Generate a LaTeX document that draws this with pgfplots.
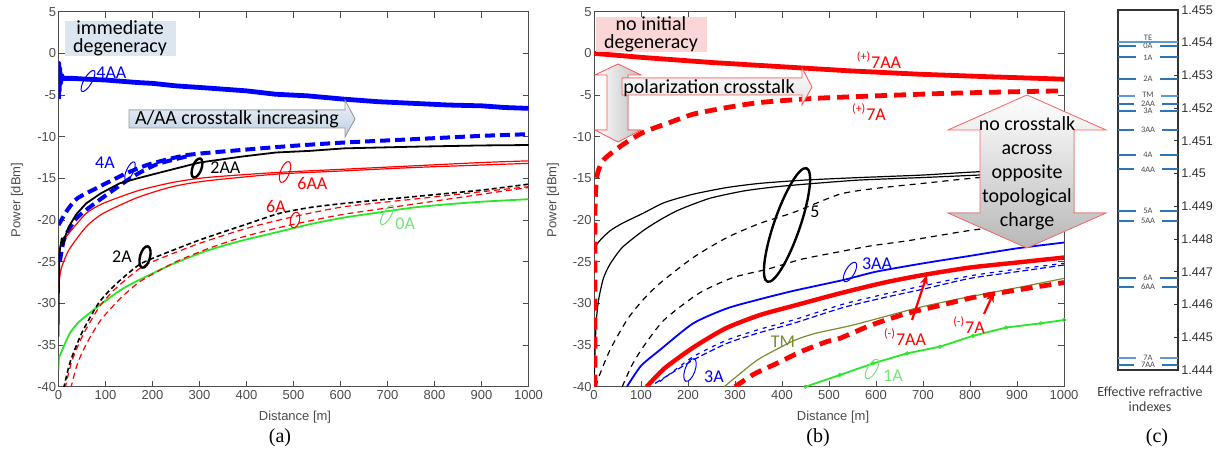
\documentclass[border=0pt]{standalone}
\usepackage{fontspec}
\setmainfont{Carlito}
\newfontfamily\arialf{Liberation Sans}
\newfontfamily\timesf{Liberation Serif}
\usepackage{pgfplots}
\pgfplotsset{compat=1.18}
\usetikzlibrary{shapes.geometric,arrows.meta}

\definecolor{mgreen}{RGB}{40,230,40}
\definecolor{lgreen}{RGB}{120,225,120}
\definecolor{tmolive}{RGB}{120,140,50}
\definecolor{cblue}{RGB}{46,117,182}
\definecolor{cblue2}{RGB}{91,155,213}
\definecolor{boxblue}{RGB}{220,230,241}
\definecolor{boxpink}{RGB}{250,214,214}
\definecolor{arrT}{RGB}{238,243,249}
\definecolor{arrB}{RGB}{188,206,225}

\tikzset{lab/.style={pos=0.5, fill=white, inner xsep=3.5pt, inner ysep=0pt, text=black!70,
    font=\fontsize{4.2}{4.5}\selectfont}}

\pgfplotsset{
  panel/.style={
    scale only axis, width=235pt, height=187.5pt, anchor=south west,
    xmin=0, xmax=1000, ymin=-40, ymax=5,
    xtick={0,100,...,1000}, ytick={-40,-35,...,5},
    tick align=inside, major tick length=3pt,
    axis line style={black!70}, every tick/.style={black!70, line width=0.4pt},
    /pgf/number format/assume math mode=true,
    /pgf/number format/1000 sep={},
    ticklabel style={font=\arialf\fontsize{6.5}{7}\selectfont, text=black!70},
    yticklabel style={inner xsep=1pt},
    xticklabel style={inner ysep=1.5pt},
  },
  every axis plot/.append style={line join=round},
}

\begin{document}
\begin{tikzpicture}
\useasboundingbox (0,0) rectangle (612pt,226.5pt);

% ---------------- panel (a) ----------------
\begin{axis}[panel, at={(29.25pt,33.15pt)}]
% 4AA
\addplot[blue, line width=2.4pt] coordinates {
 (0,-5.5) (0.5,-1.2) (1.5,-4.5) (2.5,-1.8) (4,-3.6) (6,-2.6) (10,-3.0) (30,-3.0) (60,-3.1)
 (100,-3.2) (168,-3.5) (200,-3.6) (250,-3.9) (315,-4.15) (400,-4.5) (461,-4.9) (530,-5.1)
 (608,-5.5) (680,-5.8) (755,-6.0) (830,-6.2) (901,-6.3) (950,-6.5) (1000,-6.6)};
% 4A
\addplot[blue, line width=2pt, dash pattern=on 5pt off 2.5pt, smooth, tension=0.4] coordinates {
 (0,-20.6) (19,-18.8) (40,-17.4) (87,-16.0) (144,-14.4) (194,-13.3) (274,-12.2) (388,-11.6)
 (498,-11.1) (608,-10.7) (755,-10.3) (901,-9.9) (1000,-9.7)};
\addplot[blue, line width=2pt, dash pattern=on 5pt off 2.5pt, smooth, tension=0.4] coordinates {
 (3,-25) (12,-22.3) (38,-19.8) (87,-17.6) (158,-14.8) (210,-13.3) (278,-12.3)};
% 6AA
\addplot[red, line width=0.6pt, smooth, tension=0.4] coordinates {
 (0,-24) (5,-23) (22,-21.6) (59,-19.2) (95,-18) (168,-16.5) (242,-15.5) (315,-14.9)
 (462,-14.3) (608,-13.9) (755,-13.5) (900,-13.1) (1000,-12.9)};
\addplot[red, line width=0.6pt, smooth, tension=0.4] coordinates {
 (0,-28.4) (5,-26) (22,-23.6) (59,-20.8) (95,-19.2) (168,-17.3) (242,-16) (315,-15.3)
 (462,-14.5) (608,-14.1) (755,-13.7) (900,-13.4) (1000,-13.2)};
% 2AA
\addplot[black, line width=0.9pt] coordinates {
 (0,-34) (1,-27) (2,-24) (4,-23.2) (7,-22.2) (10,-23) (14,-22) (22,-20.8) (38,-19.3) (59,-18)
 (90,-16.8) (130,-15.6) (168,-15) (230,-14.1) (300,-13.1) (388,-12.4) (462,-11.9) (535,-11.7)
 (608,-11.4) (755,-11.2) (900,-11.05) (1000,-11.0)};
% 0A
\addplot[mgreen, line width=0.9pt, smooth, tension=0.4] coordinates {
 (0,-38) (1,-36.5) (5,-36) (11,-35.2) (25,-33.5) (44,-32.2) (70,-31) (95,-29.9) (132,-28.4)
 (168,-27.3) (242,-25.3) (315,-23.7) (388,-22.5) (462,-21.5) (535,-20.5) (608,-19.7)
 (681,-19.1) (755,-18.5) (830,-18.1) (901,-17.8) (1000,-17.5)};
% 6A
\addplot[red, line width=0.6pt, dash pattern=on 3pt off 2pt, smooth, tension=0.4] coordinates {
 (14,-40.2) (28,-37) (52,-33.8) (87,-30.4) (120,-28.3) (168,-26) (200,-25) (300,-22.8)
 (400,-21) (500,-19.6) (608,-18.4) (755,-17.5) (901,-16.6) (1000,-16)};
\addplot[red, line width=0.6pt, dash pattern=on 3pt off 2pt, smooth, tension=0.4] coordinates {
 (26,-40.2) (40,-37.3) (60,-34.8) (90,-32) (130,-29.5) (168,-27.6) (200,-26.5) (250,-25)
 (315,-23.5) (388,-22.1) (462,-21) (535,-20.1) (608,-19.3) (755,-18.1) (901,-16.9) (1000,-16.1)};
% 2A
\addplot[black, line width=0.8pt, dash pattern=on 2.5pt off 1.5pt, smooth, tension=0.4] coordinates {
 (11,-40.2) (25,-37) (50,-33.5) (85,-30) (120,-27.8) (168,-25.5) (200,-24.6) (300,-22.4)
 (400,-20.5) (470,-19.2) (535,-18.5) (608,-18) (755,-17.2) (901,-16.4) (1000,-15.7)};
\end{axis}

% ---------------- panel (b) ----------------
\begin{axis}[panel, at={(297pt,33.15pt)}]
% black solid (5)
\addplot[black, line width=0.6pt, smooth, tension=0.4] coordinates {
 (0,-23.6) (5,-23) (15,-22.3) (34,-21.3) (60,-20.4) (104,-19.2) (150,-17.9) (211,-16.9)
 (283,-16.1) (353,-15.6) (450,-15.2) (566,-14.9) (700,-14.6) (821,-14.2) (1000,-13.9)};
\addplot[black, line width=0.6pt, smooth, tension=0.4] coordinates {
 (0,-40) (2,-36) (5,-32) (10,-29.5) (20,-27) (34,-25.3) (60,-23.3) (104,-21.3) (140,-20)
 (180,-18.8) (246,-17.4) (320,-16.5) (389,-16) (470,-15.6) (566,-15.2) (700,-14.9) (821,-14.6) (1000,-14.2)};
% black dashed (5)
\addplot[black, line width=0.6pt, dash pattern=on 3pt off 2.5pt, smooth, tension=0.4] coordinates {
 (5,-40) (9,-39) (34,-35.6) (70,-32) (104,-29.6) (140,-27.6) (211,-24.5) (283,-22.1)
 (353,-20.4) (424,-19.1) (523,-16.9) (600,-16.2) (700,-15.6) (821,-14.9) (1000,-14.2)};
\addplot[black, line width=0.6pt, dash pattern=on 3pt off 2.5pt, smooth, tension=0.4] coordinates {
 (60,-40) (80,-37.5) (105,-35.2) (149,-32) (223,-28.8) (296,-26.9) (369,-25.9) (442,-24.7)
 (523,-23.8) (589,-23.1) (666,-22.5) (740,-21.8) (806,-21.2) (900,-20.6) (1000,-20.1)};
% 3AA
\addplot[blue, line width=0.9pt, smooth, tension=0.4] coordinates {
 (70,-40) (100,-37.5) (140,-35.6) (211,-32.4) (283,-30.6) (353,-29.5) (424,-28.5) (530,-27.2)
 (600,-26.2) (700,-25.2) (800,-24.3) (900,-23.4) (1000,-22.7)};
% 3A
\addplot[blue, line width=0.6pt, dash pattern=on 3pt off 1.5pt, smooth, tension=0.4] coordinates {
 (130,-39.6) (211,-36.8) (283,-34.8) (353,-33.5) (424,-32.4) (530,-30.5) (618,-29.3)
 (700,-28.3) (800,-27) (900,-26.2) (1000,-25.4)};
\addplot[blue, line width=0.6pt, dash pattern=on 2pt off 2.5pt, smooth, tension=0.4] coordinates {
 (140,-39.4) (211,-36.4) (283,-34.4) (353,-33.1) (424,-32.0) (530,-30.1) (618,-28.9)
 (700,-27.9) (800,-26.7) (900,-25.9) (1000,-25.2)};
% (-)7AA
\addplot[red, line width=2.2pt, smooth, tension=0.4] coordinates {
 (112,-40) (150,-37.8) (211,-35.3) (280,-33) (353,-31.4) (424,-30.3) (523,-28.8) (618,-27.5)
 (700,-26.6) (800,-25.7) (900,-25.1) (1000,-24.5)};
% TM
\addplot[tmolive, line width=0.6pt, smooth, tension=0.4] coordinates {
 (277,-40) (320,-38) (353,-36.6) (424,-34.5) (471,-33.6) (544,-32.7) (618,-31.6) (691,-30.5)
 (764,-29.6) (837,-28.8) (911,-28) (1000,-27)};
% (-)7A
\addplot[red, line width=2.4pt, dash pattern=on 6pt off 3.5pt, smooth, tension=0.4] coordinates {
 (300,-40) (340,-38.5) (389,-37.2) (440,-35.8) (495,-34.6) (523,-34.2) (590,-32.6) (666,-31.2)
 (740,-30.2) (806,-29.3) (900,-28.4) (1000,-27.5)};
% 1A
\addplot[mgreen, line width=0.9pt, mark=o, mark size=0.9pt, mark options={line width=0.4pt}] coordinates {
 (450,-40) (523,-38.6) (594,-37.2) (666,-36) (736,-35.2) (806,-33.9) (877,-32.9) (950,-32.4) (1000,-32)};
% (+)7AA
\addplot[red, line width=2.4pt] coordinates {
 (0,0) (105,-0.5) (251,-1.1) (398,-1.6) (544,-2.1) (691,-2.5) (837,-2.8) (1000,-3.1)};
% (+)7A
\addplot[red, line width=2.4pt, dash pattern=on 6pt off 3.5pt, smooth, tension=0.4] coordinates {
 (2,-40) (2,-20) (4,-16) (8,-14.3) (20,-12.8) (55,-11.2) (104,-9.5) (161,-8.3) (211,-7.3)
 (283,-6.5) (353,-5.9) (470,-5.4) (600,-5.1) (750,-4.8) (900,-4.6) (1000,-4.5)};
\end{axis}

% ---------------- panel (c) ----------------
\begin{axis}[scale only axis, width=30pt, height=180pt, anchor=south west, at={(559pt,41.5pt)},
  xmin=0, xmax=1, ymin=1.444, ymax=1.455, xtick=\empty,
  ytick={1.444,1.445,1.446,1.447,1.448,1.449,1.45,1.451,1.452,1.453,1.454,1.455},
  ytick pos=right, yticklabel pos=right, tick align=inside, major tick length=2pt,
  axis line style={black!80, line width=0.6pt}, every tick/.style={black!80, line width=0.4pt},
  scaled y ticks=false,
  /pgf/number format/assume math mode=true,
  /pgf/number format/fixed, /pgf/number format/precision=3,
  yticklabel style={font=\arialf\fontsize{6.3}{7}\selectfont, text=black!80, inner xsep=1.5pt},
]
\addplot[cblue, line width=1pt] coordinates {(0,1.45391) (1,1.45391)} node[lab] {0A};
\addplot[cblue, line width=1pt] coordinates {(0,1.45355) (1,1.45355)} node[lab] {1A};
\addplot[cblue, line width=1pt] coordinates {(0,1.45290) (1,1.45290)} node[lab] {2A};
\addplot[cblue2, line width=1pt] coordinates {(0,1.45237) (1,1.45237)} node[lab, yshift=0.6pt] {TM};
\addplot[cblue, line width=1pt] coordinates {(0,1.45212) (1,1.45212)} node[lab] {2AA};
\addplot[cblue, line width=1pt] coordinates {(0,1.45191) (1,1.45191)} node[lab] {3A};
\addplot[cblue, line width=1pt] coordinates {(0,1.45133) (1,1.45133)} node[lab] {3AA};
\addplot[cblue, line width=1pt] coordinates {(0,1.45057) (1,1.45057)} node[lab] {4A};
\addplot[cblue, line width=1pt] coordinates {(0,1.45013) (1,1.45013)} node[lab] {4AA};
\addplot[cblue, line width=1pt] coordinates {(0,1.44887) (1,1.44887)} node[lab] {5A};
\addplot[cblue, line width=1pt] coordinates {(0,1.44855) (1,1.44855)} node[lab] {5AA};
\addplot[cblue, line width=1pt] coordinates {(0,1.44682) (1,1.44682)} node[lab] {6A};
\addplot[cblue, line width=1pt] coordinates {(0,1.44654) (1,1.44654)} node[lab] {6AA};
\addplot[cblue2, line width=1pt] coordinates {(0,1.44438) (1,1.44438)} node[lab] {7A};
\addplot[cblue, line width=1pt] coordinates {(0,1.44415) (1,1.44415)} node[lab] {7AA};
\addplot[cblue2, line width=1pt] coordinates {(0,1.45401) (1,1.45401)}
  node[pos=0.5, anchor=south, inner sep=0.3pt, text=black!70, font=\fontsize{4.2}{4.5}\selectfont] {TE};
\end{axis}

% ---------------- annotations (image pixel coordinates) ----------------
\begin{scope}[x=0.5pt, y=-0.5pt, shift={(0pt,226.5pt)}]
% axis labels
\begin{scope}[font=\arialf\fontsize{6.5}{7}\selectfont, text=black!70]
\node at (295,417) {Distance [m]};
\node at (833,417) {Distance [m]};
\node[rotate=90] at (17,200) {Power [dBm]};
\node[rotate=90] at (553,200) {Power [dBm]};
\end{scope}
\node[font=\timesf\fontsize{10}{11}\selectfont] at (280,438) {(a)};
\node[font=\timesf\fontsize{10}{11}\selectfont] at (818,438) {(b)};
\node[font=\timesf\fontsize{10}{11}\selectfont] at (1157,438) {(c)};
\node[font=\fontsize{7}{7.5}\selectfont, text=black!75, align=center] at (1150,399) {Effective refractive\\indexes};

% panel (a)
\fill[boxblue] (65,21) rectangle (176,56);
\node[font=\fontsize{10}{9}\selectfont, align=center] at (120,38) {immediate\\degeneracy};
\filldraw[draw=black!40, line width=0.4pt, top color=arrT, bottom color=arrB]
  (129,110) -- (345,110) -- (345,100) -- (355,119) -- (345,137) -- (345,128) -- (129,128) -- cycle;
\node[font=\fontsize{10}{10}\selectfont] at (237,119) {A/AA crosstalk increasing};

\node[draw=blue, line width=0.5pt, ellipse, inner sep=0, minimum width=4pt, minimum height=12pt, rotate=-30] at (88,81) {};
\node[font=\fontsize{9}{9}\selectfont, text=blue, anchor=west, inner sep=0] at (96,73) {4AA};
\node[draw=blue, line width=0.5pt, ellipse, inner sep=0, minimum width=3.5pt, minimum height=10pt, rotate=-25] at (130,171) {};
\node[font=\fontsize{9}{9}\selectfont, text=blue] at (105,163) {4A};
\node[draw=black, line width=1.2pt, ellipse, inner sep=0, minimum width=4.5pt, minimum height=10pt, rotate=-20] at (197,168) {};
\node[font=\fontsize{9}{9}\selectfont, anchor=west, inner sep=0] at (210,168) {2AA};
\node[draw=red, line width=0.5pt, ellipse, inner sep=0, minimum width=4.5pt, minimum height=11pt, rotate=-20] at (285,172) {};
\node[font=\fontsize{9}{9}\selectfont, text=red, anchor=west, inner sep=0] at (297,183) {6AA};
\node[draw=red, line width=0.5pt, ellipse, inner sep=0, minimum width=4.5pt, minimum height=8pt, rotate=-15] at (295,220) {};
\node[font=\fontsize{9}{9}\selectfont, text=red] at (276,206) {6A};
\node[draw=lgreen, line width=0.5pt, ellipse, inner sep=0, minimum width=4pt, minimum height=11pt, rotate=-30] at (387,215) {};
\node[font=\fontsize{9}{9}\selectfont, text=lgreen, anchor=west, inner sep=0] at (395,224) {0A};
\node[draw=black, line width=1.2pt, ellipse, inner sep=0, minimum width=5pt, minimum height=11pt, rotate=-15] at (145,257) {};
\node[font=\fontsize{9}{9}\selectfont] at (122,257) {2A};

% panel (b)
\fill[boxpink] (596,17) rectangle (707,52);
\node[font=\fontsize{10}{9}\selectfont, align=center] at (651,34) {no initial\\degeneracy};
\filldraw[draw=red!65, line width=0.4pt, left color=white, right color=black!25]
  (618,64) -- (641,75) -- (628,75) -- (628,130) -- (641,130) -- (618,142) -- (595,130)
  -- (607,130) -- (607,75) -- (595,75) -- cycle;
\filldraw[draw=red!65, line width=0.4pt, top color=white, bottom color=black!12]
  (622,78) -- (802,78) -- (802,68) -- (812,87) -- (802,105) -- (802,95) -- (622,95) -- cycle;
\node[font=\fontsize{10}{10}\selectfont] at (709,88) {polarization crosstalk};
\node[font=\fontsize{9}{9}\selectfont, text=red] at (879,60) {\textsuperscript{(+)}7AA};
\node[font=\fontsize{9}{9}\selectfont, text=red] at (869,112) {\textsuperscript{(+)}7A};

\filldraw[draw=red!60, line width=0.4pt, top color=white, bottom color=black!28]
  (1027,95) -- (1106,130) -- (1074,130) -- (1074,213) -- (1106,213) -- (1027,248) -- (948,213)
  -- (980,213) -- (980,130) -- (948,130) -- cycle;
\node[font=\fontsize{10}{12}\selectfont, align=center] at (1027,173)
  {no crosstalk\\across\\opposite\\topological\\charge};

\node[draw=black, line width=1.2pt, ellipse, inner sep=0, minimum width=13pt, minimum height=60pt, rotate=-19] at (787,225) {};
\node[font=\fontsize{9}{9}\selectfont] at (815,212) {5};
\node[draw=blue, line width=0.5pt, ellipse, inner sep=0, minimum width=4.5pt, minimum height=11pt, rotate=-30] at (850,272) {};
\node[font=\fontsize{9}{9}\selectfont, text=blue] at (877,264) {3AA};
\node[draw=blue, line width=0.5pt, ellipse, inner sep=0, minimum width=5pt, minimum height=12pt, rotate=-20] at (690,370) {};
\node[font=\fontsize{9}{9}\selectfont, text=blue] at (714,377) {3A};
\node[font=\fontsize{9}{9}\selectfont, text=tmolive] at (783,342) {TM};
\node[font=\fontsize{9}{9}\selectfont, text=red] at (905,337) {\textsuperscript{(-)}7AA};
\draw[red, line width=1.1pt, -{Stealth[length=5pt,width=4pt]}] (912,320) -- (927,275);
\node[font=\fontsize{9}{9}\selectfont, text=red] at (969,325) {\textsuperscript{(-)}7A};
\draw[red, line width=1.1pt, -{Stealth[length=5pt,width=4pt]}] (984,314) -- (994,292);
\node[draw=lgreen, line width=0.5pt, ellipse, inner sep=0, minimum width=4.5pt, minimum height=11pt, rotate=-30] at (872,369) {};
\node[font=\fontsize{9}{9}\selectfont, text=lgreen] at (893,376) {1A};
\end{scope}
\end{tikzpicture}
\end{document}
